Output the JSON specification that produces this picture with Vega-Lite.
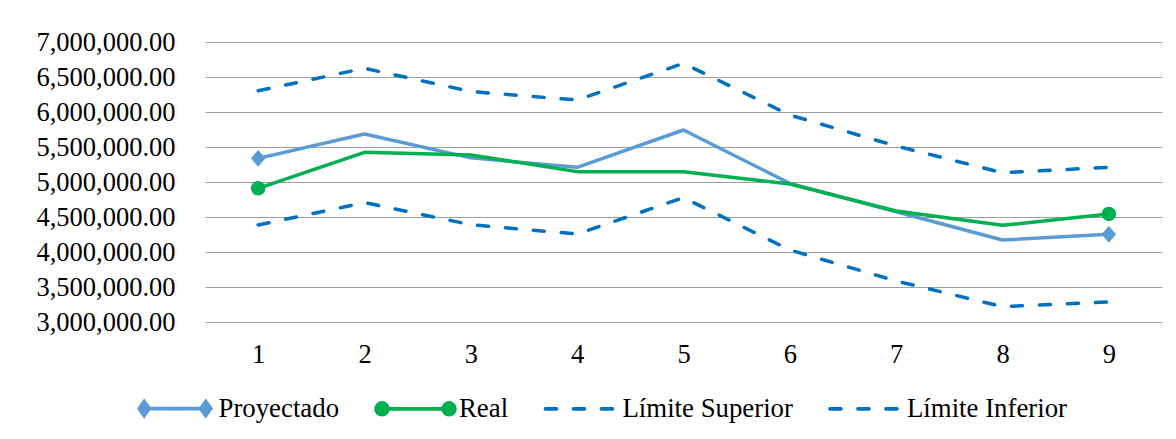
{
  "$schema": "https://vega.github.io/schema/vega-lite/v6.json",
  "width": 957,
  "height": 280,
  "autosize": {"type": "none"},
  "padding": {"left": 205, "top": 42, "right": 14, "bottom": 117},
  "background": "white",
  "config": {
    "view": {"stroke": null},
    "font": "Liberation Serif"
  },
  "data": {
    "values": [
      {"serie": "Proyectado", "periodo": 1, "valor": 5338000},
      {"serie": "Proyectado", "periodo": 2, "valor": 5686000},
      {"serie": "Proyectado", "periodo": 3, "valor": 5345000},
      {"serie": "Proyectado", "periodo": 4, "valor": 5210000},
      {"serie": "Proyectado", "periodo": 5, "valor": 5743000},
      {"serie": "Proyectado", "periodo": 6, "valor": 4981000},
      {"serie": "Proyectado", "periodo": 7, "valor": 4575000},
      {"serie": "Proyectado", "periodo": 8, "valor": 4171000},
      {"serie": "Proyectado", "periodo": 9, "valor": 4252000},
      {"serie": "Real", "periodo": 1, "valor": 4910000},
      {"serie": "Real", "periodo": 2, "valor": 5424000},
      {"serie": "Real", "periodo": 3, "valor": 5386000},
      {"serie": "Real", "periodo": 4, "valor": 5148000},
      {"serie": "Real", "periodo": 5, "valor": 5148000},
      {"serie": "Real", "periodo": 6, "valor": 4971000},
      {"serie": "Real", "periodo": 7, "valor": 4586000},
      {"serie": "Real", "periodo": 8, "valor": 4381000},
      {"serie": "Real", "periodo": 9, "valor": 4543000},
      {"serie": "Límite Superior", "periodo": 1, "valor": 6304000},
      {"serie": "Límite Superior", "periodo": 2, "valor": 6624000},
      {"serie": "Límite Superior", "periodo": 3, "valor": 6293000},
      {"serie": "Límite Superior", "periodo": 4, "valor": 6171000},
      {"serie": "Límite Superior", "periodo": 5, "valor": 6695000},
      {"serie": "Límite Superior", "periodo": 6, "valor": 5957000},
      {"serie": "Límite Superior", "periodo": 7, "valor": 5514000},
      {"serie": "Límite Superior", "periodo": 8, "valor": 5133000},
      {"serie": "Límite Superior", "periodo": 9, "valor": 5210000},
      {"serie": "Límite Inferior", "periodo": 1, "valor": 4386000},
      {"serie": "Límite Inferior", "periodo": 2, "valor": 4705000},
      {"serie": "Límite Inferior", "periodo": 3, "valor": 4390000},
      {"serie": "Límite Inferior", "periodo": 4, "valor": 4257000},
      {"serie": "Límite Inferior", "periodo": 5, "valor": 4776000},
      {"serie": "Límite Inferior", "periodo": 6, "valor": 4029000},
      {"serie": "Límite Inferior", "periodo": 7, "valor": 3586000},
      {"serie": "Límite Inferior", "periodo": 8, "valor": 3219000},
      {"serie": "Límite Inferior", "periodo": 9, "valor": 3286000}
    ]
  },
  "encoding": {
    "x": {
      "field": "periodo",
      "type": "ordinal",
      "scale": {"type": "point", "padding": 0.5},
      "axis": {
        "title": null,
        "labelAngle": 0,
        "labelFont": "Liberation Serif",
        "labelFontSize": 26.5,
        "labelColor": "black",
        "labelPadding": 19,
        "ticks": false,
        "tickSize": 0,
        "domain": false,
        "grid": false
      }
    },
    "y": {
      "field": "valor",
      "type": "quantitative",
      "scale": {"domain": [3000000, 7000000], "nice": false, "zero": false},
      "axis": {
        "title": null,
        "values": [3000000, 3500000, 4000000, 4500000, 5000000, 5500000, 6000000, 6500000, 7000000],
        "format": ",.2f",
        "labelFont": "Liberation Serif",
        "labelFontSize": 26.5,
        "labelColor": "black",
        "labelPadding": 30,
        "ticks": false,
        "tickSize": 0,
        "domain": false,
        "grid": true,
        "gridColor": "#9f9f9f",
        "gridWidth": 1.2
      }
    },
    "color": {
      "field": "serie",
      "type": "nominal",
      "scale": {
        "domain": ["Proyectado", "Real", "Límite Superior", "Límite Inferior"],
        "range": ["#5b9bd5", "#00b050", "#0070c0", "#0070c0"]
      },
      "legend": {
        "orient": "none",
        "legendX": -69.5,
        "legendY": 327,
        "direction": "horizontal",
        "columns": 4,
        "columnPadding": 28.5,
        "padding": 0,
        "title": null,
        "symbolSize": 5550,
        "symbolStrokeWidth": 3.7,
        "labelOffset": 4,
        "labelLimit": 400,
        "labelFont": "Liberation Serif",
        "labelFontSize": 26.8,
        "labelColor": "black",
        "encode": {
          "symbols": {
            "update": {
              "shape": {"signal": "datum.value === 'Proyectado' ? 'M-0.826,0L0.826,0M-0.96,0L-0.826,-0.185L-0.692,0L-0.826,0.185ZM0.692,0L0.826,-0.185L0.96,0L0.826,0.185Z' : datum.value === 'Real' ? 'M-0.9,0L0.9,0M-1.058,0A0.158,0.158 0 1,0 -0.742,0A0.158,0.158 0 1,0 -1.058,0ZM0.742,0A0.158,0.158 0 1,0 1.058,0A0.158,0.158 0 1,0 0.742,0Z' : 'M-0.9,0L0.9,0'"},
              "fill": {"signal": "datum.value === 'Proyectado' ? '#5b9bd5' : datum.value === 'Real' ? '#00b050' : 'transparent'"},
              "stroke": {"signal": "datum.value === 'Proyectado' ? '#5b9bd5' : datum.value === 'Real' ? '#00b050' : '#0070c0'"},
              "strokeDash": {"signal": "datum.value === 'Proyectado' || datum.value === 'Real' ? [1000, 0] : [11, 17]"},
              "strokeCap": {"value": "round"},
              "opacity": {"value": 1}
            }
          }
        }
      }
    }
  },
  "layer": [
    {
      "mark": {"type": "line", "strokeWidth": 3.5, "strokeCap": "round", "strokeJoin": "round"},
      "encoding": {
        "detail": {"field": "serie"},
        "strokeDash": {
          "field": "serie",
          "type": "nominal",
          "scale": {
            "domain": ["Proyectado", "Real", "Límite Superior", "Límite Inferior"],
            "range": [[1000, 0], [1000, 0], [11, 17], [11, 17]]
          },
          "legend": null
        }
      }
    },
    {
      "transform": [
        {"filter": "(datum.periodo == 1 || datum.periodo == 9) && (datum.serie == 'Proyectado' || datum.serie == 'Real')"}
      ],
      "mark": {"type": "point", "filled": true, "opacity": 1, "size": 210},
      "encoding": {
        "shape": {
          "field": "serie",
          "type": "nominal",
          "scale": {
            "domain": ["Proyectado", "Real"],
            "range": ["M-1,0L0,-1.15L1,0L0,1.15Z", "circle"]
          },
          "legend": null
        }
      }
    }
  ]
}
